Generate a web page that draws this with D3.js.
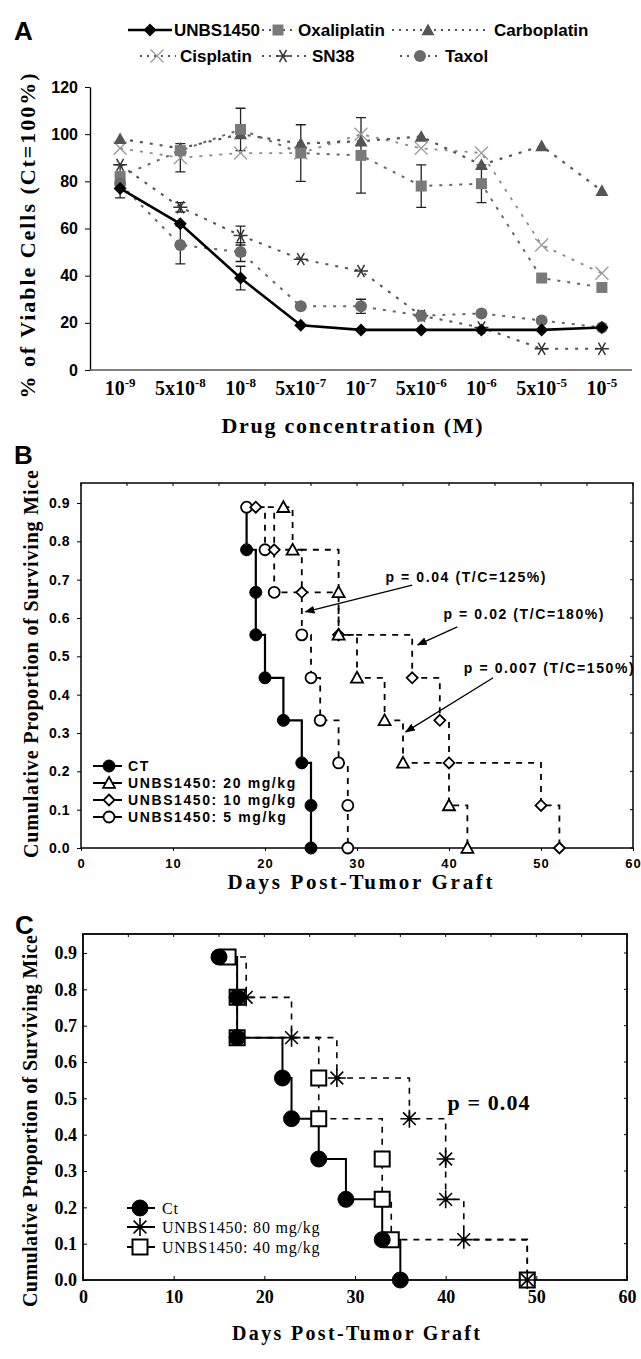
<!DOCTYPE html>
<html><head><meta charset="utf-8">
<script src="https://cdn.jsdelivr.net/npm/d3@7"></script>
<style>body{margin:0;background:#fff}svg{display:block}</style>
</head><body>
<svg id="c" width="641" height="1359"></svg>
<script>
// ---------------- DATA ----------------
// Panel A: in vitro viability (% of control) at 9 concentrations
const concBase = ["10","5x10","10","5x10","10","5x10","10","5x10","10"];
const concExp  = ["-9","-8","-8","-7","-7","-6","-6","-5","-5"];
const aTicks = [0,20,40,60,80,100,120];
const unbs1450    = [77,62,39,19,17,17,17,17,18];
const unbs1450Err = [4,0,5,0,0,0,0,0,0];
const oxaliplatin    = [82,93,102,92,91,78,79,39,35];
const oxaliplatinErr = [5,0,9,12,16,9,8,0,0];
const carboplatin    = [98,94,100,96,97,99,87,95,76];
const carboplatinErr = [0,0,0,0,0,0,0,0,0];
const cisplatin    = [94,90,92,92,100,94,92,53,41];
const cisplatinErr = [0,6,0,0,0,0,0,0,0];
const sn38    = [87,69,57,47,42,23,18,9,9];
const sn38Err = [0,2,4,0,0,0,0,0,0];
const taxol    = [79,53,50,27,27,23,24,21,18];
const taxolErr = [0,8,4,0,3,0,0,0,0];

// Panel B: survival (days of each step)
const survSteps = [0.889,0.778,0.667,0.556,0.444,0.333,0.222,0.111,0];
const bTicksY = [0,0.1,0.2,0.3,0.4,0.5,0.6,0.7,0.8,0.9];
const dayTicks = [0,10,20,30,40,50,60];
const bDaysCT   = [18,18,19,19,20,22,24,25,25];
const bDays20   = [22,23,28,28,30,33,35,40,42];
const bDays10   = [19,21,24,28,36,39,40,50,52];
const bDays5    = [18,20,21,24,25,26,28,29,29];
const bLabels = ["CT","UNBS1450: 20 mg/kg","UNBS1450: 10 mg/kg","UNBS1450: 5 mg/kg"];
const bNotes = ["p = 0.04  (T/C=125%)","p = 0.02  (T/C=180%)","p = 0.007  (T/C=150%)"];

// Panel C
const cDaysCt = [15,17,17,22,23,26,29,33,35];
const cDays80 = [16,18,23,28,36,40,40,42,49];
const cDays40 = [16,17,17,26,26,33,33,34,49];
const cLabels = ["Ct","UNBS1450: 80 mg/kg","UNBS1450: 40 mg/kg"];
const cNote = "p = 0.04";

// ---------------- HELPERS ----------------
const SANS = "'Liberation Sans', Arial, sans-serif";
const SERIF = "'Liberation Serif', 'Times New Roman', serif";
const svg = d3.select("#c");
const defs = svg.append("defs");
defs.append("marker").attr("id","arr").attr("viewBox","0 0 10 8").attr("refX",9).attr("refY",4)
  .attr("markerWidth",10).attr("markerHeight",8).attr("markerUnits","userSpaceOnUse").attr("orient","auto")
  .append("path").attr("d","M0,0L10,4L0,8Z").attr("fill","#000");

function symPath(type, s){
  switch(type){
    case "diamond": return `M0,${-s}L${s},0L0,${s}L${-s},0Z`;
    case "square": return `M${-s},${-s}H${s}V${s}H${-s}Z`;
    case "triangle": return `M0,${-s}L${s},${s*0.8}L${-s},${s*0.8}Z`;
    case "x": return `M${-s},${-s}L${s},${s}M${s},${-s}L${-s},${s}`;
    case "asterisk": {
      let p=""; [0,60,120].forEach(a=>{const r=a*Math.PI/180;const dx=s*Math.cos(r),dy=s*Math.sin(r);p+=`M${-dx},${-dy}L${dx},${dy}`;}); return p;}
    case "asterisk4": {
      let p=""; [0,45,90,135].forEach(a=>{const r=a*Math.PI/180;const dx=s*Math.cos(r),dy=s*Math.sin(r);p+=`M${-dx},${-dy}L${dx},${dy}`;}); return p;}
    case "circle": return `M${s},0A${s},${s} 0 1,1 ${-s},0A${s},${s} 0 1,1 ${s},0Z`;
  }
}
function drawSym(g, type, x, y, st){
  g.append("path").attr("transform",`translate(${x},${y})`).attr("d",symPath(type, st.size))
   .attr("fill",st.fill||"none").attr("stroke",st.stroke||"none").attr("stroke-width",st.sw||1);
}
function styleAxisText(sel, fam, size, weight){
  sel.selectAll("text").attr("font-family",fam).attr("font-size",size).attr("font-weight",weight).attr("fill","#000");
}

// ---------------- PANEL A ----------------
const gA = svg.append("g");
const xA = d3.scalePoint().domain(d3.range(9)).range([90,632]).padding(0.5);
const yA = d3.scaleLinear().domain([0,120]).range([370,87]);

gA.append("text").attr("x",14).attr("y",40).text("A")
  .attr("font-family",SANS).attr("font-weight","bold").attr("font-size",26);

gA.append("g").attr("transform","translate(90,0)")
  .call(d3.axisLeft(yA).tickValues(aTicks).tickSize(5).tickSizeOuter(0).tickPadding(7))
  .call(g=>g.select(".domain").attr("stroke-width",1.4))
  .call(g=>styleAxisText(g,SANS,16,"bold"));
gA.append("line").attr("x1",90).attr("x2",632).attr("y1",yA(0)).attr("y2",yA(0))
  .attr("stroke","#555").attr("stroke-width",1.3);
const xl = gA.append("g");
concBase.forEach((b,i)=>{
  const t = xl.append("text").attr("x",xA(i)).attr("y",395).attr("text-anchor","middle")
    .attr("font-family",SERIF).attr("font-weight","bold").attr("font-size",20);
  t.append("tspan").text(b);
  t.append("tspan").attr("dy",-8).attr("font-size",13).text(concExp[i]);
});
gA.append("text").attr("x",352).attr("y",433).attr("text-anchor","middle").text("Drug concentration (M)")
  .attr("font-family",SERIF).attr("font-weight","bold").attr("font-size",22).attr("textLength",261).attr("lengthAdjust","spacing");
gA.append("text").attr("transform","translate(35,236) rotate(-90)").attr("text-anchor","middle")
  .text("% of  Viable Cells (Ct=100%)").attr("font-family",SERIF).attr("font-weight","bold").attr("font-size",22)
  .attr("textLength",325).attr("lengthAdjust","spacing");

const seriesA = [
  {name:"Cisplatin", v:cisplatin, e:cisplatinErr, sym:"x", line:{stroke:"#8a8a8a",dash:"3,7",sw:1.8}, m:{size:6.5,stroke:"#9a9a9a",sw:1.3}},
  {name:"Carboplatin", v:carboplatin, e:carboplatinErr, sym:"triangle", line:{stroke:"#555",dash:"3,7",sw:2.2}, m:{size:6.5,fill:"#555"}},
  {name:"Oxaliplatin", v:oxaliplatin, e:oxaliplatinErr, sym:"square", line:{stroke:"#666",dash:"3,7",sw:2}, m:{size:5.5,fill:"#7a7a7a"}},
  {name:"SN38", v:sn38, e:sn38Err, sym:"asterisk", line:{stroke:"#555",dash:"3,7",sw:2}, m:{size:7,stroke:"#333",sw:1.5}},
  {name:"Taxol", v:taxol, e:taxolErr, sym:"circle", line:{stroke:"#666",dash:"3,7",sw:2}, m:{size:6,fill:"#6a6a6a"}},
  {name:"UNBS1450", v:unbs1450, e:unbs1450Err, sym:"diamond", line:{stroke:"#000",dash:null,sw:2.6}, m:{size:6.5,fill:"#000"}}
];
const lineA = d3.line().x((d,i)=>xA(i)).y(d=>yA(d));
seriesA.forEach(s=>{
  gA.append("path").attr("d",lineA(s.v)).attr("fill","none").attr("stroke",s.line.stroke)
    .attr("stroke-width",s.line.sw).attr("stroke-dasharray",s.line.dash);
});
seriesA.forEach(s=>{
  s.v.forEach((v,i)=>{ if(s.e[i]>0){
    const x=xA(i);
    gA.append("path").attr("d",`M${x},${yA(v-s.e[i])}V${yA(v+s.e[i])}M${x-5},${yA(v-s.e[i])}H${x+5}M${x-5},${yA(v+s.e[i])}H${x+5}`)
      .attr("stroke","#222").attr("stroke-width",1.3).attr("fill","none");
  }});
});
seriesA.forEach(s=>{ s.v.forEach((v,i)=>drawSym(gA,s.sym,xA(i),yA(v),s.m)); });

// legend A
const legA = gA.append("g").attr("font-family",SANS).attr("font-weight","bold").attr("font-size",17);
function legItemA(x1,x2,mx,tx,y,s){
  legA.append("line").attr("x1",x1).attr("x2",x2).attr("y1",y).attr("y2",y)
    .attr("stroke",s.line.dash?"#555":"#000").attr("stroke-width",s.line.dash?2:2.4).attr("stroke-dasharray",s.line.dash?"2,5":null);
  drawSym(legA,s.sym,mx,y,s.m);
  legA.append("text").attr("x",tx).attr("y",y).attr("dy","0.36em").text(s.name);
}
const byName = Object.fromEntries(seriesA.map(s=>[s.name,s]));
legItemA(128,172,150,174,30,byName["UNBS1450"]);
legItemA(262,294,278,298,30,byName["Oxaliplatin"]);
legItemA(392,490,428,494,30,byName["Carboplatin"]);
legItemA(140,176,157,180,56,byName["Cisplatin"]);
legItemA(262,306,283,312,56,byName["SN38"]);
legItemA(400,440,420,445,56,byName["Taxol"]);

// ---------------- PANEL B ----------------
const gB = svg.append("g");
const xB = d3.scaleLinear().domain([0,60]).range([81,633]);
const yB = d3.scaleLinear().domain([0,0.9]).range([848,503]);
const topB = 483;
gB.append("text").attr("x",14).attr("y",464).text("B")
  .attr("font-family",SANS).attr("font-weight","bold").attr("font-size",26);
gB.append("rect").attr("x",81).attr("y",topB).attr("width",633-81).attr("height",848-topB)
  .attr("fill","none").attr("stroke","#000").attr("stroke-width",1.5);
gB.append("g").attr("transform","translate(81,0)")
  .call(d3.axisLeft(yB).tickValues(bTicksY).tickFormat(d3.format(".1f")).tickSize(4).tickSizeOuter(0).tickPadding(7))
  .call(g=>g.select(".domain").remove())
  .call(g=>styleAxisText(g,SANS,14,"bold"))
  .call(g=>g.selectAll("text").attr("letter-spacing",0.5));
gB.append("g").attr("transform","translate(0,848)")
  .call(d3.axisBottom(xB).tickValues(dayTicks).tickSize(3).tickSizeOuter(0).tickPadding(8))
  .call(g=>g.select(".domain").remove())
  .call(g=>styleAxisText(g,SANS,13,"bold"))
  .call(g=>g.selectAll("text").attr("letter-spacing",1));
gB.append("g").selectAll("line").data(d3.range(0,61,5)).join("line")
  .attr("x1",d=>xB(d)).attr("x2",d=>xB(d)).attr("y1",topB).attr("y2",topB+3).attr("stroke","#000");
gB.append("g").selectAll("line").data(bTicksY).join("line")
  .attr("x1",633).attr("x2",630).attr("y1",d=>yB(d)).attr("y2",d=>yB(d)).attr("stroke","#000");
gB.append("text").attr("x",360).attr("y",889).attr("text-anchor","middle").text("Days Post-Tumor Graft")
  .attr("font-family",SERIF).attr("font-weight","bold").attr("font-size",21).attr("textLength",265).attr("lengthAdjust","spacing");
gB.append("text").attr("transform","translate(38,664) rotate(-90)").attr("text-anchor","middle")
  .text("Cumulative Proportion of Surviving Mice").attr("font-family",SERIF).attr("font-weight","bold").attr("font-size",20)
  .attr("textLength",388).attr("lengthAdjust","spacing");

const stepLine = (xs,ys)=>d3.line().x(d=>xs(d[0])).y(d=>ys(d[1])).curve(d3.curveStepAfter);
const seriesB = [
  {days:bDays5,  sym:"circle",   dash:"6,6", m:{size:5.5,fill:"#fff",stroke:"#000",sw:1.8}},
  {days:bDays10, sym:"diamond",  dash:"6,6", m:{size:5.5,fill:"#fff",stroke:"#000",sw:1.8}},
  {days:bDays20, sym:"triangle", dash:"6,6", m:{size:6,fill:"#fff",stroke:"#000",sw:1.8}},
  {days:bDaysCT, sym:"circle",   dash:null,  m:{size:6,fill:"#000",stroke:"#000",sw:1}, skipFirst:true}
];
seriesB.forEach(s=>{
  const pts = s.days.map((d,i)=>[d,survSteps[i]]);
  gB.append("path").attr("d",stepLine(xB,yB)(pts)).attr("fill","none").attr("stroke","#000")
    .attr("stroke-width",s.dash?1.8:2.2).attr("stroke-dasharray",s.dash);
});
seriesB.forEach(s=>{
  s.days.forEach((d,i)=>{ if(s.skipFirst && i===0) return; drawSym(gB,s.sym,xB(d),yB(survSteps[i]),s.m); });
});
const notePos = [
  {tx:33.1, ty:0.707, tl:160, ax1:36.0, ay1:0.686, ax2:24.4, ay2:0.616},
  {tx:39.4, ty:0.610, tl:160, ax1:40.9, ay1:0.577, ax2:36.6, ay2:0.530},
  {tx:41.6, ty:0.470, tl:170, ax1:44.8, ay1:0.444, ax2:35.3, ay2:0.303}
];
bNotes.forEach((t,i)=>{
  const p = notePos[i];
  gB.append("text").attr("x",xB(p.tx)).attr("y",yB(p.ty)).attr("dy","0.36em").text(t)
    .attr("font-family",SANS).attr("font-weight","bold").attr("font-size",14)
    .attr("textLength",p.tl).attr("lengthAdjust","spacing");
  gB.append("line").attr("x1",xB(p.ax1)).attr("y1",yB(p.ay1)).attr("x2",xB(p.ax2)).attr("y2",yB(p.ay2))
    .attr("stroke","#000").attr("stroke-width",1.3).attr("marker-end","url(#arr)");
});
const legBY = [766,783,800,817];
const legBOrder = [3,2,1,0];
bLabels.forEach((lab,i)=>{
  const s = seriesB[legBOrder[i]];
  const y = legBY[i];
  gB.append("line").attr("x1",93).attr("x2",122).attr("y1",y).attr("y2",y).attr("stroke","#000").attr("stroke-width",2);
  drawSym(gB,s.sym,109,y,s.m);
  gB.append("text").attr("x",128).attr("y",y).attr("dy","0.36em").text(lab)
    .attr("font-family",SANS).attr("font-weight","bold").attr("font-size",14).attr("letter-spacing",1.6);
});

// ---------------- PANEL C ----------------
const gC = svg.append("g");
const xC = d3.scaleLinear().domain([0,60]).range([83,627]);
const yC = d3.scaleLinear().domain([0,0.9]).range([1280,953]);
const topC = 934;
gC.append("text").attr("x",15).attr("y",934).text("C")
  .attr("font-family",SANS).attr("font-weight","bold").attr("font-size",26);
gC.append("rect").attr("x",83).attr("y",topC).attr("width",627-83).attr("height",1280-topC)
  .attr("fill","none").attr("stroke","#000").attr("stroke-width",1.8);
gC.append("g").attr("transform","translate(83,0)")
  .call(d3.axisLeft(yC).tickValues(bTicksY).tickFormat(d3.format(".1f")).tickSize(-4).tickSizeOuter(0).tickPadding(6))
  .call(g=>g.select(".domain").remove())
  .call(g=>styleAxisText(g,SERIF,18,"bold"));
gC.append("g").attr("transform","translate(0,1280)")
  .call(d3.axisBottom(xC).tickValues(dayTicks).tickSize(-4).tickSizeOuter(0).tickPadding(10))
  .call(g=>g.select(".domain").remove())
  .call(g=>styleAxisText(g,SERIF,18,"bold"));
gC.append("g").selectAll("line").data(d3.range(0,61,5)).join("line")
  .attr("x1",d=>xC(d)).attr("x2",d=>xC(d)).attr("y1",topC).attr("y2",topC+3).attr("stroke","#000");
gC.append("g").selectAll("line").data(bTicksY).join("line")
  .attr("x1",627).attr("x2",624).attr("y1",d=>yC(d)).attr("y2",d=>yC(d)).attr("stroke","#000");
gC.append("text").attr("x",356).attr("y",1340).attr("text-anchor","middle").text("Days Post-Tumor Graft")
  .attr("font-family",SERIF).attr("font-weight","bold").attr("font-size",20).attr("textLength",248).attr("lengthAdjust","spacing");
gC.append("text").attr("transform","translate(37,1121) rotate(-90)").attr("text-anchor","middle")
  .text("Cumulative Proportion of Surviving Mice").attr("font-family",SERIF).attr("font-weight","bold").attr("font-size",20)
  .attr("textLength",372).attr("lengthAdjust","spacing");

const seriesC = [
  {days:cDays40, sym:"square",    dash:"6,6", m:{size:7.5,fill:"#fff",stroke:"#000",sw:2}},
  {days:cDays80, sym:"asterisk4", dash:"6,6", m:{size:9,stroke:"#000",sw:1.6}, skipFirst:true},
  {days:cDaysCt, sym:"circle",    dash:null,  m:{size:8,fill:"#000",stroke:"#000",sw:1}}
];
seriesC.forEach(s=>{
  const pts = s.days.map((d,i)=>[d,survSteps[i]]);
  gC.append("path").attr("d",stepLine(xC,yC)(pts)).attr("fill","none").attr("stroke","#000")
    .attr("stroke-width",s.dash?1.6:2).attr("stroke-dasharray",s.dash);
});
seriesC.forEach(s=>{ s.days.forEach((d,i)=>{ if(s.skipFirst && i===0) return; drawSym(gC,s.sym,xC(d),yC(survSteps[i]),s.m); }); });
gC.append("text").attr("x",xC(40.2)).attr("y",yC(0.49)).attr("dy","0.36em").text(cNote)
  .attr("font-family",SERIF).attr("font-weight","bold").attr("font-size",22).attr("textLength",82).attr("lengthAdjust","spacing");
const legCY = [1208,1227,1247];
const legCOrder = [2,1,0];
cLabels.forEach((lab,i)=>{
  const s = seriesC[legCOrder[i]];
  const y = legCY[i];
  gC.append("line").attr("x1",127).attr("x2",155).attr("y1",y).attr("y2",y).attr("stroke","#000").attr("stroke-width",2);
  drawSym(gC,s.sym,140,y,s.m);
  gC.append("text").attr("x",162).attr("y",y).attr("dy","0.36em").text(lab)
    .attr("font-family",SERIF).attr("font-size",16).attr("letter-spacing",0.8);
});
</script>
</body></html>
